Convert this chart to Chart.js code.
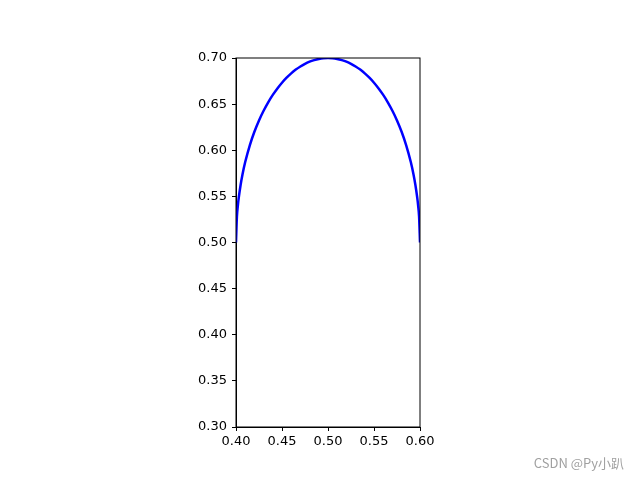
<!DOCTYPE html>
<html>
<head>
<meta charset="utf-8">
<script src="https://cdn.jsdelivr.net/npm/chart.js@4"></script>
<style>
  body { margin: 0; background: #fff; }
  #wrap { position: relative; width: 640px; height: 480px; }
  #mark {
    position: absolute; right: 16px; bottom: 8px;
    font-family: "Noto Sans CJK SC", "DejaVu Sans", sans-serif;
    font-size: 13px; color: #a0a0a0;
  }
</style>
</head>
<body>
<div id="wrap">
  <canvas id="ellipse" width="640" height="480"></canvas>
  <div id="mark">CSDN @Py小趴</div>
</div>
<script>
// points (upper half of an ellipse)
const xValues = [
  0.400, 0.401, 0.402, 0.403, 0.405, 0.407, 0.410, 0.415, 0.420, 0.425,
  0.430, 0.435, 0.440, 0.445, 0.450, 0.455, 0.460, 0.465, 0.470, 0.475,
  0.480, 0.485, 0.490, 0.495, 0.500, 0.505, 0.510, 0.515, 0.520, 0.525,
  0.530, 0.535, 0.540, 0.545, 0.550, 0.555, 0.560, 0.565, 0.570, 0.575,
  0.580, 0.585, 0.590, 0.593, 0.595, 0.597, 0.598, 0.599, 0.600,
];
const yValues = [
  0.5000, 0.5282, 0.5398, 0.5486, 0.5624, 0.5735, 0.5872, 0.6054, 0.6200, 0.6323,
  0.6428, 0.6520, 0.6600, 0.6670, 0.6732, 0.6786, 0.6833, 0.6874, 0.6908, 0.6937,
  0.6960, 0.6977, 0.6990, 0.6998, 0.7000, 0.6998, 0.6990, 0.6977, 0.6960, 0.6937,
  0.6908, 0.6874, 0.6833, 0.6786, 0.6732, 0.6670, 0.6600, 0.6520, 0.6428, 0.6323,
  0.6200, 0.6054, 0.5872, 0.5735, 0.5624, 0.5486, 0.5398, 0.5282, 0.5000,
];
const xTicks = [0.4, 0.45, 0.5, 0.55, 0.6];
const yTicks = [0.3, 0.35, 0.4, 0.45, 0.5, 0.55, 0.6, 0.65, 0.7];

const ctx = document.getElementById("ellipse").getContext("2d");

// black box round the plot area
const frame = {
  id: "frame",
  afterDraw(chart) {
    const { left, top, right, bottom } = chart.chartArea;
    const c = chart.ctx;
    c.save();
    c.strokeStyle = "#000";
    c.lineWidth = 1;
    c.strokeRect(left, top, right - left, bottom - top);
    c.restore();
  },
};

const tickFont = { family: "DejaVu Sans", size: 13 };

new Chart(ctx, {
  type: "scatter",
  data: {
    datasets: [
      {
        data: xValues.map((x, i) => ({ x: x, y: yValues[i] })),
        showLine: true,
        borderColor: "#0000ff",
        borderWidth: 2.5,
        pointRadius: 0,
        cubicInterpolationMode: "monotone",
      },
    ],
  },
  options: {
    responsive: false,
    animation: false,
    plugins: {
      legend: { display: false },
      tooltip: { enabled: false },
    },
    layout: {
      padding: { top: 58, right: 220, left: 0, bottom: 0 },
    },
    scales: {
      x: {
        type: "linear",
        min: 0.4,
        max: 0.6,
        afterBuildTicks: (s) => { s.ticks = xTicks.map((v) => ({ value: v })); },
        afterFit: (s) => { s.height = 53; },
        grid: { drawOnChartArea: false, tickLength: 4, color: "#000" },
        border: { color: "#000" },
        ticks: {
          color: "#000",
          font: tickFont,
          padding: 3,
          maxRotation: 0,
          callback: (v) => v.toFixed(2),
        },
      },
      y: {
        type: "linear",
        min: 0.3,
        max: 0.7,
        afterBuildTicks: (s) => { s.ticks = yTicks.map((v) => ({ value: v })); },
        afterFit: (s) => { s.width = 236; },
        grid: { drawOnChartArea: false, tickLength: 4, color: "#000" },
        border: { color: "#000" },
        ticks: {
          color: "#000",
          font: tickFont,
          padding: 5,
          callback: (v) => v.toFixed(2),
        },
      },
    },
  },
  plugins: [frame],
});
</script>
</body>
</html>
